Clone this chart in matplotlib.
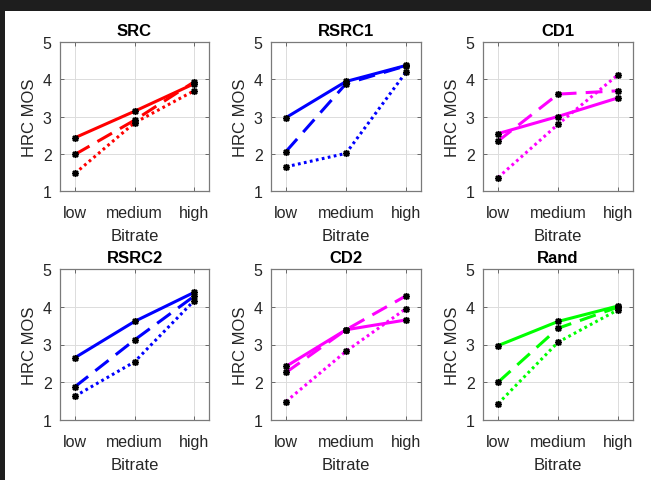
import matplotlib
matplotlib.use("Agg")
import matplotlib.pyplot as plt
from matplotlib.patches import Rectangle

plt.rcParams['font.family'] = ['Liberation Sans', 'DejaVu Sans']

bitrates = ["low", "medium", "high"]
x_pos = [1, 2, 3]

titles = ["SRC", "RSRC1", "CD1", "RSRC2", "CD2", "Rand"]
colors = ["#ff0000", "#0000ff", "#ff00ff", "#0000ff", "#ff00ff", "#00ff00"]

# each panel: solid, dashed, dotted series (low, medium, high)
src_solid = [2.43, 3.14, 3.88]
src_dashed = [1.98, 2.90, 3.93]
src_dotted = [1.47, 2.83, 3.69]

rsrc1_solid = [2.97, 3.94, 4.37]
rsrc1_dashed = [2.06, 3.88, 4.36]
rsrc1_dotted = [1.65, 2.01, 4.19]

cd1_solid = [2.54, 3.00, 3.50]
cd1_dashed = [2.34, 3.60, 3.69]
cd1_dotted = [1.36, 2.79, 4.12]

rsrc2_solid = [2.65, 3.61, 4.38]
rsrc2_dashed = [1.88, 3.12, 4.28]
rsrc2_dotted = [1.63, 2.54, 4.16]

cd2_solid = [2.42, 3.39, 3.65]
cd2_dashed = [2.26, 3.39, 4.29]
cd2_dotted = [1.49, 2.82, 3.95]

rand_solid = [2.97, 3.61, 4.02]
rand_dashed = [2.00, 3.43, 3.99]
rand_dotted = [1.43, 3.06, 3.92]

panels = [
    (src_solid, src_dashed, src_dotted),
    (rsrc1_solid, rsrc1_dashed, rsrc1_dotted),
    (cd1_solid, cd1_dashed, cd1_dotted),
    (rsrc2_solid, rsrc2_dashed, rsrc2_dotted),
    (cd2_solid, cd2_dashed, cd2_dotted),
    (rand_solid, rand_dashed, rand_dotted),
]

W, H = 651, 481
fig = plt.figure(figsize=(W / 100, H / 100), dpi=100)
fig.patch.set_facecolor("white")

# dark frame strips (screenshot border)
fig.add_artist(Rectangle((0, 1 - 12 / H), 1, 12 / H, transform=fig.transFigure,
                         facecolor="#1e1e1e", edgecolor="none"))
fig.add_artist(Rectangle((0, 0), 5 / W, 1, transform=fig.transFigure,
                         facecolor="#1e1e1e", edgecolor="none"))

cols = [(60, 209), (271, 421), (483, 633)]
rows = [(43, 192), (270, 421)]

styles = ["-", (0, (5.5, 3)), (0, (0.9, 1.1))]

for i, (title, color, series) in enumerate(zip(titles, colors, panels)):
    r, c = divmod(i, 3)
    x0, x1 = cols[c]
    y0, y1 = rows[r]
    ax = fig.add_axes([x0 / W, 1 - y1 / H, (x1 - x0) / W, (y1 - y0) / H])
    ax.set_xlim(0.75, 3.25)
    ax.set_ylim(1, 5)
    ax.grid(True, color="#dcdcdc", linewidth=0.7)
    ax.set_axisbelow(True)
    for vals, ls in zip(series, styles):
        ax.plot(x_pos, vals, color=color, linestyle=ls, linewidth=2.2,
                solid_capstyle="butt", dash_capstyle="butt", zorder=2)
    for vals in series:
        ax.plot(x_pos, vals, linestyle="none", marker=(8, 2, 0), color="black",
                markersize=5, markeredgewidth=1.1, zorder=3)
    ax.set_xticks(x_pos)
    ax.set_xticklabels(bitrates)
    ax.set_yticks([1, 2, 3, 4, 5])
    ax.tick_params(direction="in", length=3, width=0.6, color="#555555",
                   labelsize=11.5, labelcolor="#262626",
                   top=True, right=True)
    ax.tick_params(axis="x", pad=10)
    ax.tick_params(axis="y", pad=6)
    for sp in ax.spines.values():
        sp.set_color("#7a7a7a")
        sp.set_linewidth(0.9)
    ax.set_title(title, fontsize=12, fontweight="bold", pad=5, color="black")
    ax.set_xlabel("Bitrate", fontsize=12, color="#262626", labelpad=6)
    ax.set_ylabel("HRC MOS", fontsize=12, color="#262626", labelpad=4)

fig.savefig("out.png", dpi=100, facecolor=fig.get_facecolor())
